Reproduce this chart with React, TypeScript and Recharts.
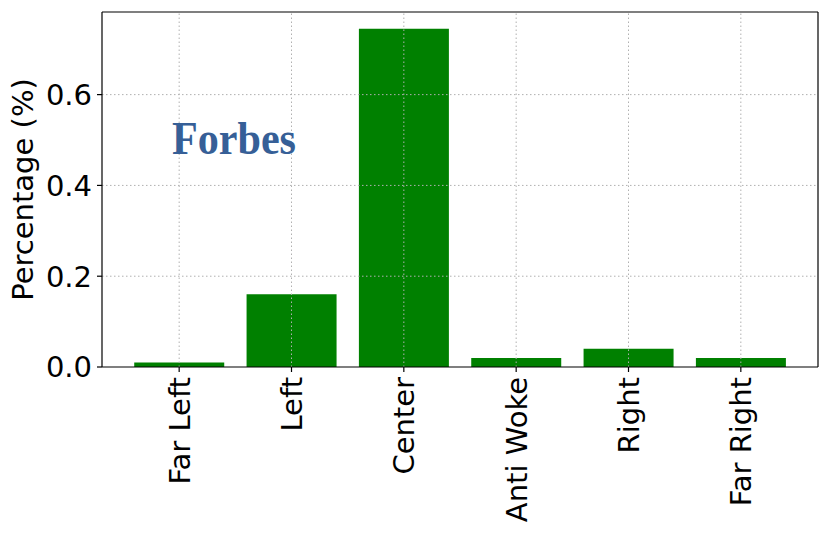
import React from "react";
import { BarChart, Bar, XAxis, YAxis, ReferenceLine } from "recharts";

const categories = ["Far Left", "Left", "Center", "Anti Woke", "Right", "Far Right"];
const percentages = [0.01, 0.16, 0.745, 0.02, 0.04, 0.02];
const yTicks = [0, 0.2, 0.4, 0.6];
const yMax = 0.782;

const data = categories.map((name, i) => ({ name, value: percentages[i] }));

const FONT = "'DejaVu Sans', sans-serif";
const FS = 29;
const GRID = "#b0b0b0";
const GRID_DASH = "1.5 2.5";

const XTick = (props: any) => {
  const { x, y, payload } = props;
  return (
    <text
      x={x}
      y={y}
      transform={`rotate(-90, ${x}, ${y})`}
      textAnchor="end"
      dy="0.36em"
      fontSize={FS}
      fontFamily={FONT}
      fill="#000"
    >
      {payload.value}
    </text>
  );
};

const YTick = (props: any) => {
  const { x, y, payload } = props;
  return (
    <text x={x} y={y} textAnchor="end" dy="0.36em" fontSize={FS} fontFamily={FONT} fill="#000">
      {Number(payload.value).toFixed(1)}
    </text>
  );
};

const YLabel = (props: any) => {
  const vb = props.viewBox || { x: 0, y: 12, width: 102, height: 355 };
  const cx = 33;
  const cy = vb.y + vb.height / 2;
  return (
    <text
      x={cx}
      y={cy}
      transform={`rotate(-90, ${cx}, ${cy})`}
      textAnchor="middle"
      fontSize={FS}
      fontFamily={FONT}
      fill="#000"
    >
      Percentage (%)
    </text>
  );
};

export default function App() {
  return (
    <div style={{ position: "absolute", left: 0, top: 0, width: 830, height: 535, background: "#fff" }}>
      <BarChart
        width={830}
        height={535}
        data={data}
        margin={{ top: 11, right: 11, left: 0, bottom: 0 }}
        barCategoryGap="10%"
      >
        <XAxis
          dataKey="name"
          height={168}
          padding={{ left: 21, right: 21 }}
          tick={<XTick />}
          tickSize={5}
          tickMargin={5}
          interval={0}
          stroke="#000"
          axisLine={{ stroke: "#000", strokeWidth: 1.2 }}
          tickLine={{ stroke: "#000", strokeWidth: 1.2 }}
        />
        <XAxis
          xAxisId="top"
          dataKey="name"
          orientation="top"
          height={1}
          padding={{ left: 21, right: 21 }}
          tick={false}
          tickLine={false}
          axisLine={{ stroke: "#000", strokeWidth: 1.2 }}
        />
        <YAxis
          width={102}
          domain={[0, yMax]}
          ticks={yTicks}
          tick={<YTick />}
          tickSize={5}
          tickMargin={5}
          axisLine={{ stroke: "#000", strokeWidth: 1.2 }}
          tickLine={{ stroke: "#000", strokeWidth: 1.2 }}
          label={<YLabel />}
        />
        <YAxis
          yAxisId="right"
          orientation="right"
          width={1}
          domain={[0, yMax]}
          tick={false}
          tickLine={false}
          axisLine={{ stroke: "#000", strokeWidth: 1.2 }}
        />
        <Bar dataKey="value" fill="#008000" isAnimationActive={false} />
        {yTicks.filter((t) => t > 0).map((t) => (
          <ReferenceLine
            key={`h${t}`}
            y={t}
            stroke={GRID}
            strokeDasharray={GRID_DASH}
            strokeWidth={1}
          />
        ))}
        {categories.map((c) => (
          <ReferenceLine
            key={`v${c}`}
            x={c}
            stroke={GRID}
            strokeDasharray={GRID_DASH}
            strokeWidth={1}
          />
        ))}
      </BarChart>
      <svg
        width={830}
        height={535}
        style={{ position: "absolute", left: 0, top: 0, pointerEvents: "none" }}
      >
        <text
          x={172}
          y={154}
          fontSize={47}
          fontWeight="bold"
          fontFamily="'Liberation Serif', 'DejaVu Serif', serif"
          fill="#365f97"
          textLength={124}
          lengthAdjust="spacingAndGlyphs"
        >
          Forbes
        </text>
      </svg>
    </div>
  );
}
